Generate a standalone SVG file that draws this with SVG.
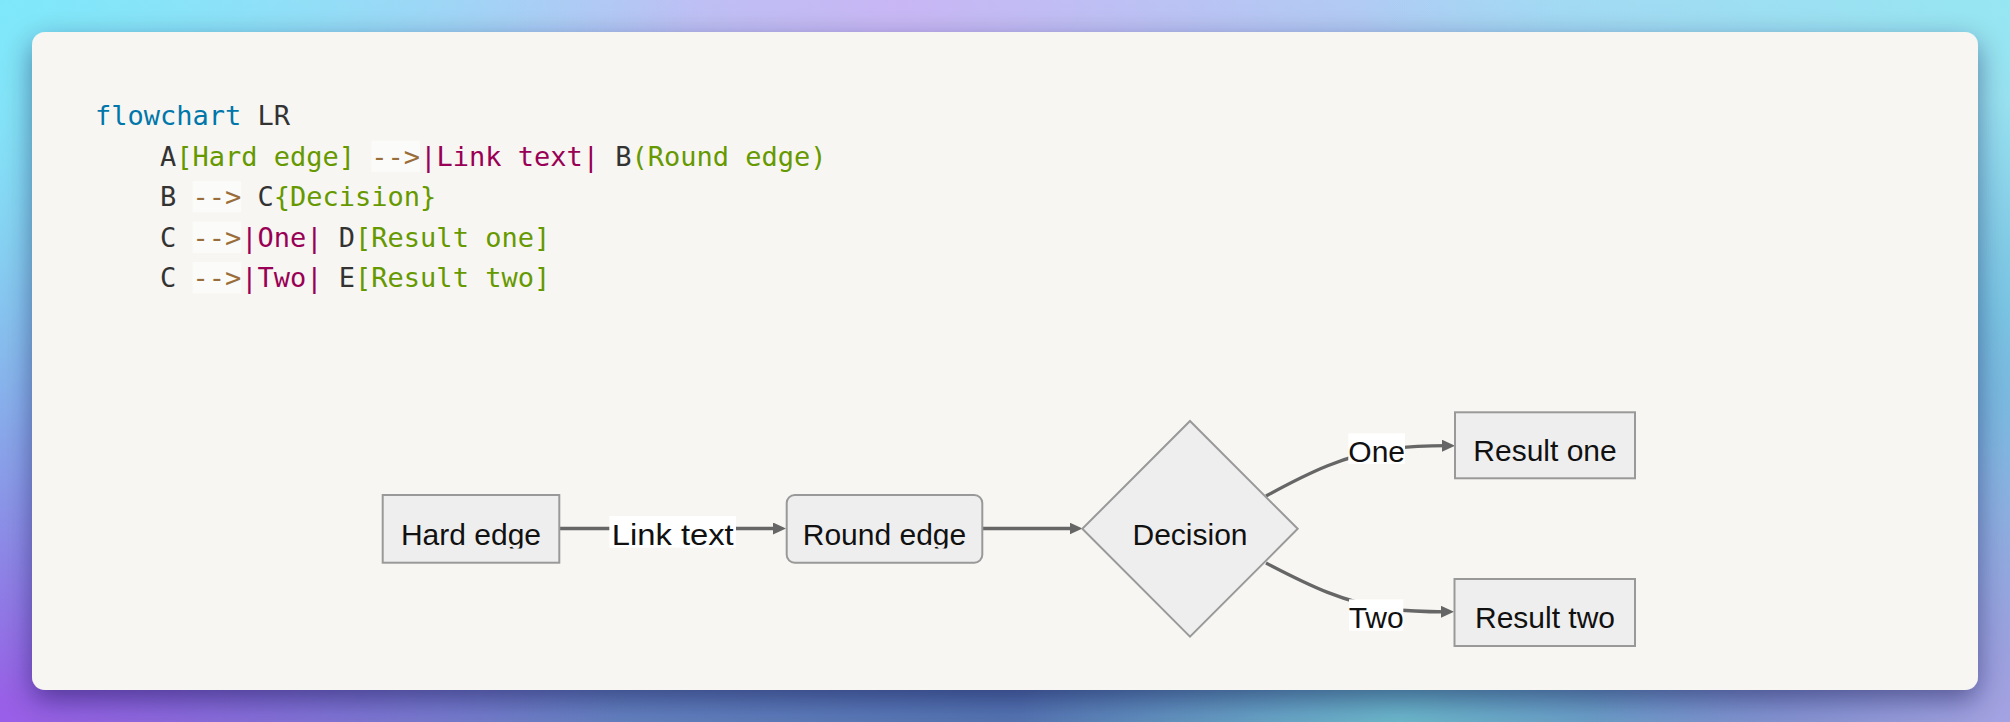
<svg xmlns="http://www.w3.org/2000/svg" width="2010" height="722" viewBox="0 0 2010 722">
  <defs>
    <linearGradient id="bgBase" x1="0" y1="0" x2="0" y2="1">
      <stop offset="0" stop-color="#a8d4f4"/>
      <stop offset="1" stop-color="#6a86c6"/>
    </linearGradient>
    <radialGradient id="gTL" cx="0" cy="0" r="700" gradientUnits="userSpaceOnUse">
      <stop offset="0" stop-color="#7ee8fa" stop-opacity="1"/>
      <stop offset="1" stop-color="#7ee8fa" stop-opacity="0"/>
    </radialGradient>
    <radialGradient id="gTM" cx="900" cy="0" r="650" gradientUnits="userSpaceOnUse">
      <stop offset="0" stop-color="#c8b6f4" stop-opacity="1"/>
      <stop offset="1" stop-color="#c8b6f4" stop-opacity="0"/>
    </radialGradient>
    <radialGradient id="gTR" cx="2010" cy="0" r="650" gradientUnits="userSpaceOnUse">
      <stop offset="0" stop-color="#96e6f2" stop-opacity="1"/>
      <stop offset="1" stop-color="#96e6f2" stop-opacity="0"/>
    </radialGradient>
    <radialGradient id="gBL" cx="0" cy="722" r="620" gradientUnits="userSpaceOnUse">
      <stop offset="0" stop-color="#9a5ee8" stop-opacity="1"/>
      <stop offset="1" stop-color="#9a5ee8" stop-opacity="0"/>
    </radialGradient>
    <radialGradient id="gBM" cx="1000" cy="722" r="560" gradientUnits="userSpaceOnUse">
      <stop offset="0" stop-color="#5272b0" stop-opacity="0.9"/>
      <stop offset="1" stop-color="#5272b0" stop-opacity="0"/>
    </radialGradient>
    <radialGradient id="gBT" cx="1400" cy="722" r="380" gradientUnits="userSpaceOnUse">
      <stop offset="0" stop-color="#6cb8cc" stop-opacity="1"/>
      <stop offset="1" stop-color="#6cb8cc" stop-opacity="0"/>
    </radialGradient>
    <radialGradient id="gBR" cx="2010" cy="722" r="420" gradientUnits="userSpaceOnUse">
      <stop offset="0" stop-color="#a4a2e2" stop-opacity="1"/>
      <stop offset="1" stop-color="#a4a2e2" stop-opacity="0"/>
    </radialGradient>
    <radialGradient id="gRM" cx="2010" cy="420" r="320" gradientUnits="userSpaceOnUse">
      <stop offset="0" stop-color="#6cc0e0" stop-opacity="1"/>
      <stop offset="1" stop-color="#6cc0e0" stop-opacity="0"/>
    </radialGradient>
    <filter id="shadow" x="-5%" y="-10%" width="110%" height="125%">
      <feDropShadow dx="0" dy="10" stdDeviation="14" flood-color="#10103a" flood-opacity="0.45"/>
    </filter>
    <marker id="arrow" markerUnits="userSpaceOnUse" markerWidth="14" markerHeight="12" refX="5" refY="6" orient="auto">
      <path d="M0,0 L13,6 L0,12 z" fill="#666666"/>
    </marker>
    <clipPath id="clipRow1">
      <rect x="370" y="495" width="630" height="53.5"/>
    </clipPath>
    <style>
      .code { font-family: "DejaVu Sans Mono", "Liberation Mono", monospace; font-size: 27px; fill: #333333; }
      .kw { fill: #0077aa; }
      .str { fill: #669900; }
      .op { fill: #9a6e3a; }
      .tag { fill: #990055; }
      .opbg { fill: #ffffff; fill-opacity: 0.5; }
      .node { fill: #eeeeee; stroke: #999999; stroke-width: 2; }
      .label { font-family: "Liberation Sans", Arial, sans-serif; font-size: 30px; fill: #111111; text-anchor: middle; }
      .edge { fill: none; stroke: #666666; stroke-width: 3.3; }
      .lblbg { fill: #ffffff; }
    </style>
  </defs>

  <!-- background -->
  <rect x="0" y="0" width="2010" height="722" fill="url(#bgBase)"/>
  <rect x="0" y="0" width="2010" height="722" fill="url(#gTM)"/>
  <rect x="0" y="0" width="2010" height="722" fill="url(#gTR)"/>
  <rect x="0" y="0" width="2010" height="722" fill="url(#gRM)"/>
  <rect x="0" y="0" width="2010" height="722" fill="url(#gBM)"/>
  <rect x="0" y="0" width="2010" height="722" fill="url(#gBT)"/>
  <rect x="0" y="0" width="2010" height="722" fill="url(#gBR)"/>
  <rect x="0" y="0" width="2010" height="722" fill="url(#gBL)"/>
  <rect x="0" y="0" width="2010" height="722" fill="url(#gTL)"/>

  <!-- card -->
  <rect id="card" x="32" y="32" width="1946" height="658" rx="13" fill="#f7f6f2" filter="url(#shadow)"/>

  <!-- code block -->
  <g id="code">
    <rect class="opbg" x="371.3" y="140.5" width="48.8" height="31.5"/>
    <rect class="opbg" x="192.5" y="181" width="48.8" height="31.5"/>
    <rect class="opbg" x="192.5" y="221.5" width="48.8" height="31.5"/>
    <rect class="opbg" x="192.5" y="262" width="48.8" height="31.5"/>
    <text class="code" x="95" y="125" xml:space="preserve"><tspan class="kw">flowchart</tspan> LR</text>
    <text class="code" x="160" y="165.5" xml:space="preserve">A<tspan class="str">[Hard edge]</tspan> <tspan class="op">--&gt;</tspan><tspan class="tag">|Link text|</tspan> B<tspan class="str">(Round edge)</tspan></text>
    <text class="code" x="160" y="206" xml:space="preserve">B <tspan class="op">--&gt;</tspan> C<tspan class="str">{Decision}</tspan></text>
    <text class="code" x="160" y="246.5" xml:space="preserve">C <tspan class="op">--&gt;</tspan><tspan class="tag">|One|</tspan> D<tspan class="str">[Result one]</tspan></text>
    <text class="code" x="160" y="287" xml:space="preserve">C <tspan class="op">--&gt;</tspan><tspan class="tag">|Two|</tspan> E<tspan class="str">[Result two]</tspan></text>
  </g>

  <!-- connectors -->
  <g id="connectors">
    <path class="edge" d="M559.3,528.5 L778,528.5" marker-end="url(#arrow)"/>
    <path class="edge" d="M982.3,528.5 L1074.5,528.5" marker-end="url(#arrow)"/>
    <path class="edge" d="M1266,496 C1310,472 1345,455 1390,449 C1410,446.5 1425,445.7 1447,445.7" marker-end="url(#arrow)"/>
    <path class="edge" d="M1266,563 C1310,586 1345,603 1390,609 C1410,611.5 1425,611.8 1446,611.8" marker-end="url(#arrow)"/>
    <g id="label-link">
      <rect class="lblbg" x="609.3" y="516" width="126.7" height="31.7"/>
      <text class="label" x="672.7" y="545" textLength="122" lengthAdjust="spacingAndGlyphs">Link text</text>
    </g>
    <g id="label-one">
      <rect class="lblbg" x="1348.3" y="433.3" width="56.7" height="30.7"/>
      <text class="label" x="1376.7" y="461.5">One</text>
    </g>
    <g id="label-two">
      <rect class="lblbg" x="1349" y="599.3" width="54.3" height="31.4"/>
      <text class="label" x="1376.2" y="628.3">Two</text>
    </g>
  </g>

  <!-- nodes -->
  <g id="A">
    <rect class="node" x="382.7" y="495" width="176.6" height="67.7"/>
    <text class="label" x="471" y="545" clip-path="url(#clipRow1)">Hard edge</text>
  </g>
  <g id="B">
    <rect class="node" x="786.7" y="495" width="195.6" height="67.7" rx="8" ry="8"/>
    <text class="label" x="884.5" y="545" clip-path="url(#clipRow1)">Round edge</text>
  </g>
  <g id="C">
    <polygon class="node" points="1190,421 1297.7,528.8 1190,636.7 1082.3,528.8"/>
    <text class="label" x="1190" y="545">Decision</text>
  </g>
  <g id="D">
    <rect class="node" x="1455" y="412.3" width="180" height="66"/>
    <text class="label" x="1545" y="461">Result one</text>
  </g>
  <g id="E">
    <rect class="node" x="1454.5" y="579" width="180.5" height="67"/>
    <text class="label" x="1545" y="628.3">Result two</text>
  </g>
</svg>
